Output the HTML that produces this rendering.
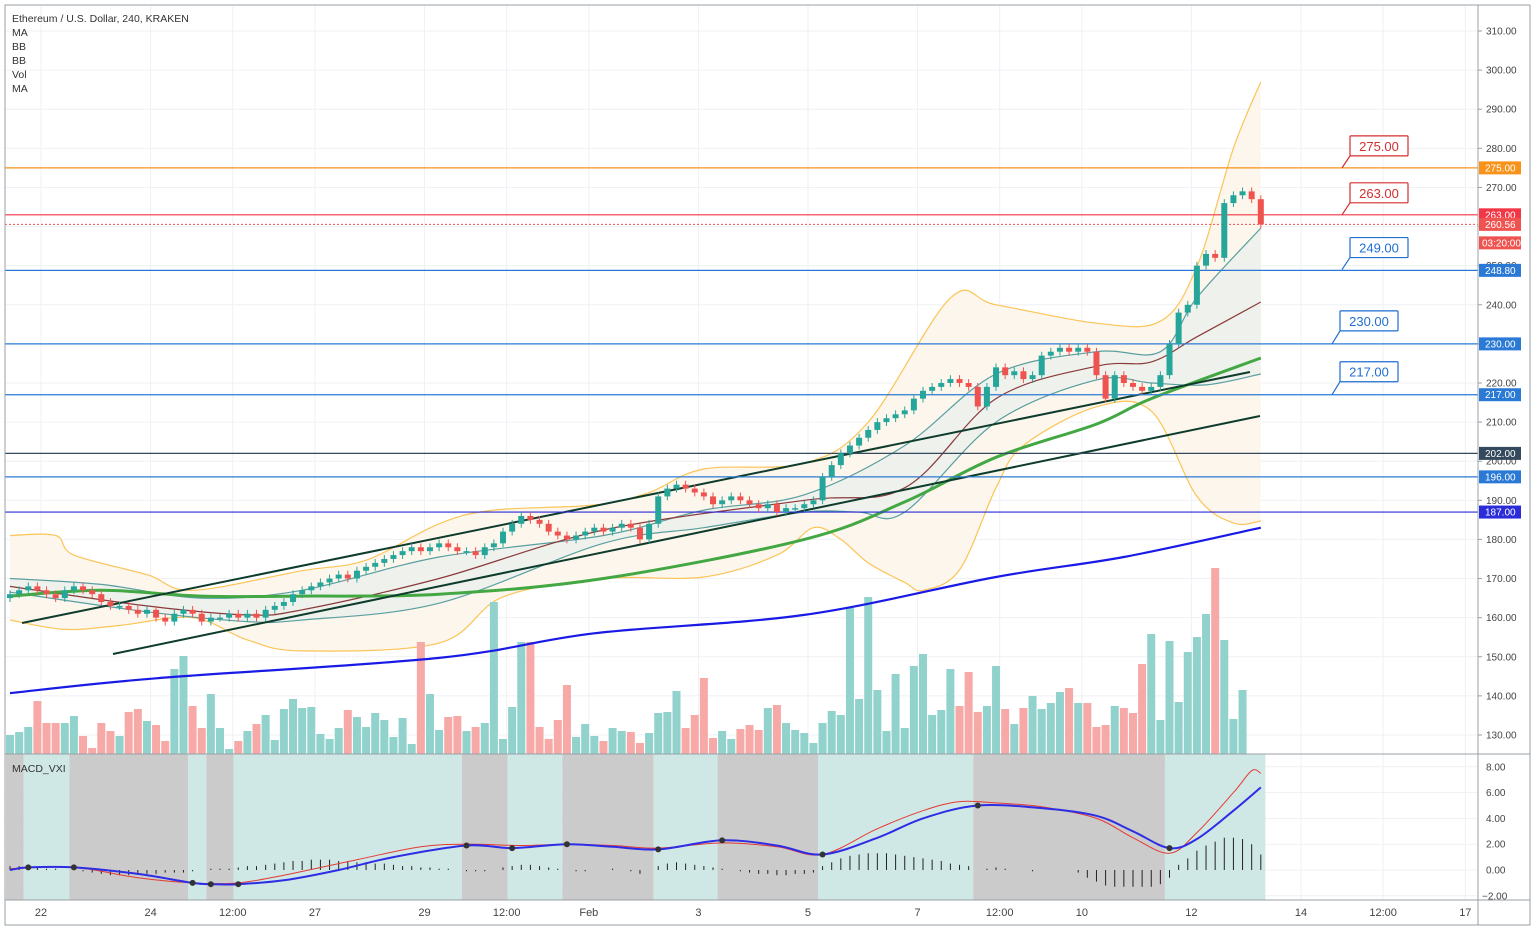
<!DOCTYPE html>
<html><head><meta charset="utf-8">
<style>
html,body{margin:0;padding:0;background:#fff;}
svg{display:block;font-family:"Liberation Sans",sans-serif;}
</style></head>
<body>
<svg id="chart" width="1536" height="929" viewBox="0 0 1536 929">
<g id="grid"></g>
<g id="bands"></g>
<g id="bb"></g>
<g id="vol"></g>
<g id="ma"></g>
<g id="hlines"></g>
<g id="candles"></g>
<g id="macd"></g>
<g id="axes"></g>
<g id="labels"></g>
<g font-size="10.5" fill="#333">
<text x="12" y="22">Ethereum / U.S. Dollar, 240, KRAKEN</text>
<text x="12" y="36">MA</text>
<text x="12" y="50">BB</text>
<text x="12" y="64">BB</text>
<text x="12" y="78">Vol</text>
<text x="12" y="92">MA</text>
<text x="12" y="772">MACD_VXI</text>
</g>
</svg>
<script>
const closes=[166,167,168,167,166,165,167,168,167,166,
164,163,163,162,161,162,160,159,161,162,
161,159,160,160,161,160,161,160,162,163,
164,166,167,168,169,170,171,170,172,173,
174,175,176,177,178,177,178,179,178,177,
177,176,178,179,182,184,186,185,184,182,
181,180,181,182,183,182,183,184,183,180,
184,191,193,194,193,192,191,189,190,191,
190,189,188,189,187,188,188,189,190,196,
199,202,204,206,208,210,211,212,213,216,
218,219,220,221,220,219,214,219,224,222,
223,221,222,227,228,229,228,229,228,222,
216,222,220,219,218,219,222,230,238,240,
250,253,252,266,268,269,267,260.56];
const firstOpen=165;
const volumes=[19,22,27,53,31,31,31,38,18,6,31,23,18,42,45,33,29,13,85,98,48,26,60,26,5,13,23,30,39,14,45,55,46,47,20,15,26,44,37,27,41,34,17,36,10,112,60,24,
37,38,23,27,31,152,15,47,112,112,27,15,34,69,17,30,18,13,26,23,22,11,21,41,42,63,26,39,76,16,23,15,25,29,24,46,49,31,24,21,11,31,43,39,146,
55,157,64,23,80,26,88,100,39,44,85,48,82,42,48,88,45,30,46,58,45,51,62,66,51,51,27,29,48,46,41,90,120,34,113,52,102,117,140,186,114,35,64];
const hist=[0.3,0.3,0.2,0.2,0.1,0.1,0,0,-0.1,-0.2,
-0.3,-0.4,-0.4,-0.4,-0.3,-0.3,-0.3,-0.2,-0.2,-0.2,
-0.1,0,0.1,0.1,0.1,0.2,0.3,0.3,0.4,0.5,
0.6,0.7,0.7,0.8,0.8,0.8,0.7,0.7,0.6,0.6,
0.5,0.5,0.4,0.3,0.3,0.2,0.2,0.1,0.1,0,
-0.1,-0.1,-0.1,0,0.2,0.3,0.4,0.4,0.3,0.2,
0.1,0,-0.1,-0.1,0,0,0.1,0,-0.1,-0.3,
0,0.3,0.5,0.6,0.5,0.4,0.3,0.2,0.1,0,
-0.1,-0.2,-0.3,-0.3,-0.4,-0.4,-0.3,-0.3,-0.2,0.3,
0.6,0.9,1.1,1.2,1.3,1.3,1.3,1.2,1.1,1.0,
0.9,0.8,0.7,0.5,0.4,0.3,0,0.1,0.2,0.1,
0,0,-0.1,0,0,0,0,-0.2,-0.6,-0.9,
-1.2,-1.3,-1.3,-1.3,-1.3,-1.3,-1.1,-0.6,0.4,0.9,
1.5,1.9,2.2,2.5,2.5,2.4,2.0,1.2];
const macdIdx=[0,2,7,14,20,22,25,30,36,42,50,55,61,66,71,78,84,89,95,100,106,113,119,123,127,130,134,137];
const macdVals=[0.0,0.2,0.2,-0.3,-1.0,-1.1,-1.1,-0.8,0.0,1.0,1.9,1.7,2.0,1.8,1.6,2.3,1.9,1.2,2.5,4.0,5.0,4.8,4.2,3.0,1.7,2.4,4.6,6.4];
const sigIdx=[0,7,14,20,25,30,38,45,50,56,61,66,71,78,84,89,95,100,104,108,113,119,123,127,130,134,136,137];
const sigVals=[0.1,0.2,-0.6,-1.0,-1.0,-0.4,0.8,1.8,2.0,1.9,2.0,1.9,1.7,2.1,1.8,1.2,3.2,4.6,5.3,5.2,4.9,4.0,2.5,1.3,2.9,6.0,7.7,7.5];
const crossIdx=[2,7,20,22,25,50,55,61,71,78,89,106,127];
const bandEdges=[-0.9,1.5,6.5,19.5,21.5,24.5,49.5,54.5,60.5,70.5,77.5,88.5,105.5,126.5,137.5];
const ma200Idx=[0,16,47,64,87,108,122,137];
const ma200=[140.7,144.5,149.7,156,160.7,170.4,175.5,183];
const ma50Idx=[0,10,21,32,47,65,87,98,108,119,125,137];
const ma50=[165.5,167,165.5,165.5,166,170,180,189.6,201,209.5,216,226.4];
const ma20Idx=[0,15,26,32,47,65,87,98,108,119,125,130,137];
const ma20=[168,163,160.7,162,170,182.4,190,193.2,216,224.3,225.4,231.8,240.7];
const bbUpIdx=[0,5,7,15,20,32,39,47,53,64,70,76,87,94,103,108,119,126,130,134,137];
const bbUp=[181,181,176,171,167,172,174.7,184,187.5,188.8,192,198,199.5,210,241.7,240,235.3,235.8,249.7,280,297];
const bbLoIdx=[0,6,12,20,26,32,47,54,65,76,84,88,91,94,98,100,104,108,111,119,125,130,134,137];
const bbLo=[159.4,157,158,160,154.3,151.5,153.5,165.3,170,170.4,176,183,180,174,169,167,172.2,193.2,204,213.9,212.8,191,184.2,184.7];
const bb2UpIdx=[0,10,21,32,47,65,76,87,98,108,119,126,130,137];
const bb2Up=[170,168.5,165,167,175.5,181,187.5,191.4,204,222.3,228,228,241.8,259.6];
const bb2LoIdx=[0,15,26,32,47,65,76,87,93,98,108,119,125,131,137];
const bb2Lo=[166.5,161.5,159,159.4,163.7,179,183,187,187,187,210,220.8,220,219.5,222.3];
const priceTicks=[310,300,290,280,270,260,250,240,230,220,210,200,190,180,170,160,150,140,130];
const macdTicks=[8,6,4,2,0,-2];
const timeLabels=["22","24","12:00","27","29","12:00","Feb","3","5","7","12:00","10","12","14","12:00","17"];
const timeIdx=[3.4,15.4,24.4,33.4,45.4,54.4,63.4,75.4,87.4,99.4,108.4,117.4,129.4,141.4,150.4,159.4];
const levels=[275,263,248.8,230,217,202,196,187];
const levelColors=["#f7931a","#f23645","#2a7ad5","#2a7ad5","#2a7ad5","#34495e","#2a7ad5","#2b2bd9"];
const callouts=[275,263,249,230,217];

const NS="http://www.w3.org/2000/svg";
const X0=5,X1=1478,MAINB=754,MACDB=900;
function xC(i){return 10+i*9.13;}
function yP(p){return 31+(310-p)*3.911;}
function yM(v){return 870-v*12.9;}
function yV(v){return MAINB-v;}
function mk(tag,attrs,parent){const e=document.createElementNS(NS,tag);for(const k in attrs)e.setAttribute(k,attrs[k]);parent.appendChild(e);return e;}
const $=id=>document.getElementById(id);

function ptArr(idx,vals,yf){return idx.map((i,k)=>[xC(i),yf(vals[k])]);}
function smooth(p,move){
  let d=(move?'M':'L')+p[0][0].toFixed(1)+','+p[0][1].toFixed(1);
  for(let i=0;i<p.length-1;i++){
    const p0=p[Math.max(0,i-1)],p1=p[i],p2=p[i+1],p3=p[Math.min(p.length-1,i+2)];
    const c1x=p1[0]+(p2[0]-p0[0])/6,c1y=p1[1]+(p2[1]-p0[1])/6;
    const c2x=p2[0]-(p3[0]-p1[0])/6,c2y=p2[1]-(p3[1]-p1[1])/6;
    d+=' C'+c1x.toFixed(1)+','+c1y.toFixed(1)+' '+c2x.toFixed(1)+','+c2y.toFixed(1)+' '+p2[0].toFixed(1)+','+p2[1].toFixed(1);
  }
  return d;
}

const grid=$('grid');
priceTicks.forEach(p=>{const l=mk('line',{x1:X0,x2:X1,y1:yP(p),y2:yP(p),stroke:'#eef1f5'},grid);});
timeIdx.forEach(t=>{const l=mk('line',{x1:xC(t),x2:xC(t),y1:5,y2:MACDB,stroke:'#eef1f5'},grid);});
macdTicks.forEach(v=>{const l=mk('line',{x1:X0,x2:X1,y1:yM(v),y2:yM(v),stroke:'#eef1f5'},grid);});

const bands=$('bands');
for(let k=0;k<bandEdges.length-1;k++){
  const xa=Math.max(X0+1,xC(bandEdges[k])),xb=xC(bandEdges[k+1]);
  const r=mk('rect',{x:xa,y:MAINB,width:xb-xa,height:MACDB-MAINB,fill:k%2===0?'#cbcbcb':'#cfe7e5'},bands);
  
}

const bb=$('bb');
const upP=ptArr(bbUpIdx,bbUp,yP),loP=ptArr(bbLoIdx,bbLo,yP);
let f1=mk('path',{d:smooth(upP,true)+' '+smooth(loP.slice().reverse(),false)+' Z',fill:'#fdf6ec'},bb);

const up2=ptArr(bb2UpIdx,bb2Up,yP),lo2=ptArr(bb2LoIdx,bb2Lo,yP);
let f2=mk('path',{d:smooth(up2,true)+' '+smooth(lo2.slice().reverse(),false)+' Z',fill:'#eef1ec'},bb);

[[upP,'#fbc457','bb-upper'],[loP,'#fbc457','bb-lower'],[up2,'#5a9fa0','bb2-upper'],[lo2,'#5a9fa0','bb2-lower']].forEach(a=>{
  const l=mk('path',{d:smooth(a[0],true),fill:'none',stroke:a[1],'stroke-width':1.2},bb);
  
});

const opens=closes.map((c,i)=>i===0?firstOpen:closes[i-1]);
const vol=$('vol'),cg=$('candles');
closes.forEach((c,i)=>{
  const o=opens[i],up=c>=o,x=xC(i);
  const v=mk('rect',{x:x-4,y:yV(volumes[i]),width:8,height:volumes[i],fill:up?'#92d2cc':'#f7a9a7'},vol);
  
  const col=up?'#26a69a':'#ef5350';
  const hi=Math.max(o,c)+1,lo=Math.min(o,c)-1;
  const w=mk('line',{x1:x,x2:x,y1:yP(hi),y2:yP(lo),stroke:col,'stroke-width':1},cg);
  
  const top=yP(Math.max(o,c)),h=Math.max(1.5,yP(Math.min(o,c))-top);
  const b=mk('rect',{x:x-3,y:top,width:6,height:h,fill:col},cg);
  
});

const ma=$('ma');
[[ma20Idx,ma20,'#8b3a3a',1.2,'ma-20'],[ma50Idx,ma50,'#43a843',3,'ma-50'],[ma200Idx,ma200,'#1a1ae6',2.2,'ma-200']].forEach(a=>{
  const l=mk('path',{d:smooth(ptArr(a[0],a[1],yP),true),fill:'none',stroke:a[2],'stroke-width':a[3]},ma);
  
});
let t1=mk('line',{x1:22,y1:623,x2:1250,y2:372,stroke:'#0d3b2c','stroke-width':2},ma);

let t2=mk('line',{x1:113,y1:654,x2:1260,y2:416,stroke:'#0d3b2c','stroke-width':2},ma);


const hl=$('hlines');
levels.forEach((p,k)=>{
  const l=mk('line',{x1:X0,x2:X1,y1:yP(p),y2:yP(p),stroke:levelColors[k],'stroke-width':1.2},hl);
  
});
const lastY=yP(closes[closes.length-1]);
let dl=mk('line',{x1:X0,x2:X1,y1:lastY,y2:lastY,stroke:'#ef5350','stroke-dasharray':'2,2'},hl);


callouts.forEach(p=>{
  const red=p>=260,col=red?'#d32f2f':'#1e6fd0';
  const y=yP(p),bx=red?1350:(p>=245?1350:1340),by=y-(red?32:(p>=245?32:33));
  const g=mk('g',{},hl);
  
  mk('line',{x1:bx,y1:by+20,x2:bx-8,y2:y,stroke:col,'stroke-width':1.2},g);
  mk('rect',{x:bx,y:by,width:58,height:20,fill:'#fff',stroke:col,'stroke-width':1.2,rx:1},g);
  const t=mk('text',{x:bx+29,y:by+15,'text-anchor':'middle','font-size':13,fill:col},g);
  t.textContent=p.toFixed(2);
});

const mg=$('macd');
hist.forEach((h,i)=>{
  const l=mk('line',{x1:xC(i),x2:xC(i),y1:yM(0),y2:yM(h),stroke:'#222','stroke-width':1},mg);
  
});
let sl=mk('path',{d:smooth(ptArr(sigIdx,sigVals,yM),true),fill:'none',stroke:'#e53935','stroke-width':1},mg);

let ml=mk('path',{d:smooth(ptArr(macdIdx,macdVals,yM),true),fill:'none',stroke:'#2d2de6','stroke-width':2},mg);

function interp(idx,vals,i){for(let k=0;k<idx.length-1;k++){if(i>=idx[k]&&i<=idx[k+1]){const t=(i-idx[k])/(idx[k+1]-idx[k]);return vals[k]+t*(vals[k+1]-vals[k]);}}return vals[vals.length-1];}
crossIdx.forEach(i=>{
  const c=mk('circle',{cx:xC(i),cy:yM(interp(macdIdx,macdVals,i)),r:3,fill:'#333'},mg);
  
});

const ax=$('axes');
[['rect',{x:X0,y:5,width:1525,height:920,fill:'none',stroke:'#9aa0a6'}],
 ['line',{x1:X1,x2:X1,y1:5,y2:925,stroke:'#9aa0a6'}],
 ['line',{x1:X0,x2:1530,y1:MAINB,y2:MAINB,stroke:'#9aa0a6'}],
 ['line',{x1:X0,x2:1530,y1:MACDB,y2:MACDB,stroke:'#9aa0a6'}]].forEach(a=>{
  const e=mk(a[0],a[1],ax);
});
priceTicks.forEach(p=>{
  const tk=mk('line',{x1:X1,x2:X1+4,y1:yP(p),y2:yP(p),stroke:'#9aa0a6'},ax);
  
  const t=mk('text',{x:1486,y:yP(p)+3.5,'font-size':10,fill:'#444'},ax);
  
  t.textContent=p.toFixed(2);
});
macdTicks.forEach(v=>{
  const t=mk('text',{x:v<0?1482:1486,y:yM(v)+3.5,'font-size':10,fill:'#444'},ax);
  
  t.textContent=(v<0?'\u22122':v.toFixed(0))+'.00';
});
timeLabels.forEach((s,k)=>{
  const t=mk('text',{x:xC(timeIdx[k]),y:916,'font-size':11,fill:'#444','text-anchor':'middle'},ax);
  
  t.textContent=s;
});

const lb=$('labels');
const axLabels=[[275,'275.00','#f7931a'],[263,'263.00','#f23645'],[closes[closes.length-1],closes[closes.length-1].toFixed(2),'#ef5350'],[248.8,'248.80','#2a7ad5'],[230,'230.00','#2a7ad5'],[217,'217.00','#2a7ad5'],[202,'202.00','#34495e'],[196,'196.00','#2a7ad5'],[187,'187.00','#2b2bd9']];
axLabels.forEach(a=>{
  const y=yP(a[0]);
  const g=mk('g',{},lb);
  mk('rect',{x:1479,y:y-6.5,width:42,height:13,fill:a[2]},g);
  const t=mk('text',{x:1485,y:y+3.5,'font-size':10,fill:'#fff'},g);t.textContent=a[1];
});
const cg2=mk('g',{},lb);
mk('rect',{x:1479,y:lastY+12,width:42,height:13,fill:'#ef5350'},cg2);
const ct=mk('text',{x:1482,y:lastY+22,'font-size':10,fill:'#fff'},cg2);ct.textContent='03:20:00';
</script>
</body></html>
